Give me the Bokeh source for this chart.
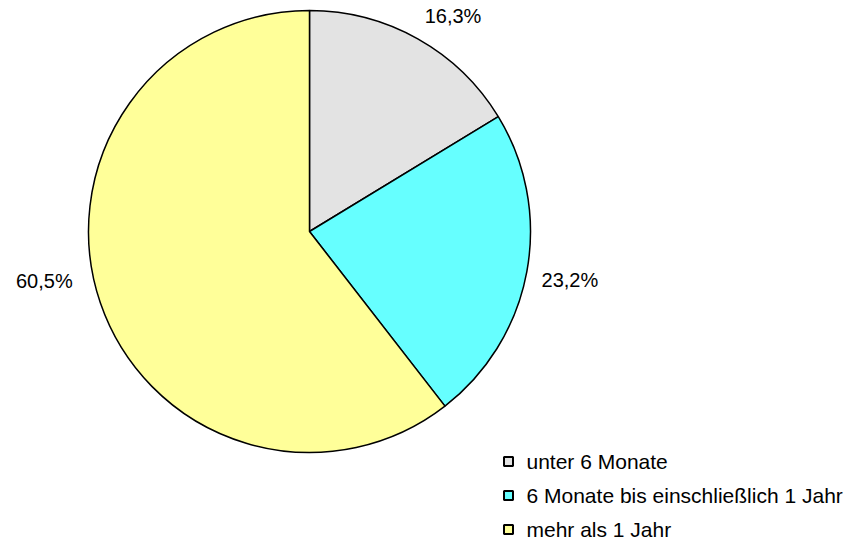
import math
from bokeh.plotting import figure
from bokeh.models import Range1d
from bokeh.core.properties import value
from bokeh.embed import file_html
from bokeh.resources import INLINE

categories = ["unter 6 Monate", "6 Monate bis einschließlich 1 Jahr", "mehr als 1 Jahr"]
shares = [16.3, 23.2, 60.5]
labels = ["16,3%", "23,2%", "60,5%"]
colors = ["#E3E3E3", "#66FFFF", "#FFFF99"]

W, H = 852, 545
p = figure(width=W, height=H, output_backend="svg", toolbar_location=None,
           x_range=Range1d(0, W), y_range=Range1d(0, H), min_border=0)
p.axis.visible = False
p.grid.visible = False
p.outline_line_color = None

# layout (picture px -> data)
cx, cy, R = 309, H - 231, 221
FONT = value("Liberation Sans")

total = sum(shares)
start = 90.0
mids = []
for s, c in zip(shares, colors):
    end = start - s / total * 360.0
    p.wedge(x=cx, y=cy, radius=R, start_angle=math.radians(end), end_angle=math.radians(start),
            fill_color=c, line_color="black", line_width=1.5)
    mids.append((start + end) / 2)
    start = end

# label placement
label_r = [235, 235, 242]
label_nudge = [0, 1.3, -7]
aligns = [("left", "bottom"), ("left", "top"), ("right", "middle")]
for lab, m, r, n, (al, bl) in zip(labels, mids, label_r, label_nudge, aligns):
    a = math.radians(m + n)
    p.text(x=[cx + r * math.cos(a)], y=[cy + r * math.sin(a)], text=[lab],
           text_font=FONT, text_font_size="20px", text_align=al, text_baseline=bl,
           text_color="black")

# legend
lx, ly0, dy = 508, H - 461, 34
for i, (cat, c) in enumerate(zip(categories, colors)):
    y = ly0 - i * dy
    p.scatter(x=[lx], y=[y], marker="square", size=9, fill_color=c,
              line_color="black", line_width=2)
    p.text(x=[lx + 18], y=[y], text=[cat], text_font=FONT, text_font_size="21px",
           text_align="left", text_baseline="middle", text_color="black")

open("out.html", "w").write(file_html(p, INLINE))
